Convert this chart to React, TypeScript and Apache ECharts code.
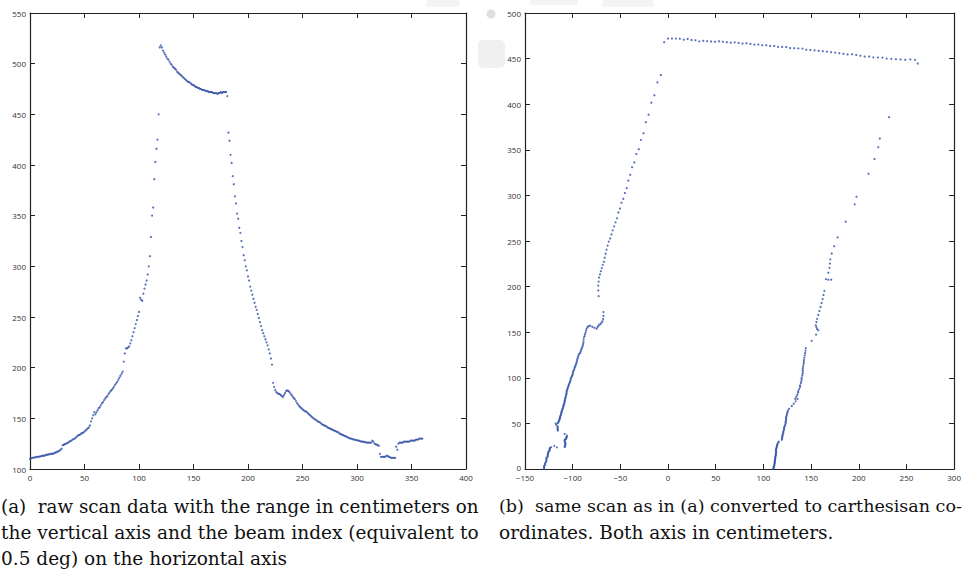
import React, { useEffect, useRef } from "react";
import * as echarts from "echarts";

// Range readings (cm) for each beam index 0..360
const ranges: number[] = [
  110, 110.5, 111, 111, 111.5, 111.5, 112, 112, 112, 112.5,
  112.5, 113, 113, 113, 113.5, 114, 114, 114.5, 114.5, 115,
  115, 115, 115.5, 116, 116.5, 117, 117.5, 118, 119, 120,
  123.5, 124, 124.5, 125, 125.5, 126, 127, 127.5, 128, 129,
  129.5, 130, 131, 132, 133, 133.5, 134, 135, 135.5, 136,
  137, 138, 139, 140, 141, 143, 147, 150, 153, 156,
  154, 156, 158, 160, 161, 163, 165, 166, 168, 169.5,
  171, 172, 174, 175.5, 177, 178, 179.5, 181, 183, 184.5,
  186, 188, 190, 192, 194, 196, 206, 214, 219, 219,
  220, 221, 224, 227, 231, 235, 239, 243, 247, 251,
  255, 269, 267, 266, 273, 278, 282, 286, 292, 300,
  310, 329, 350, 358, 386, 403, 416, 425, 450, 516,
  518, 516, 513, 511, 509, 507, 505, 504, 502, 500,
  499, 497, 496, 495, 494, 492, 491, 490, 489, 488,
  487, 486, 485, 484, 483, 482, 482, 481, 480, 479,
  479, 478, 477, 477, 476, 476, 475, 475, 474, 474,
  474, 473, 473, 473, 472, 472, 472, 472, 471, 471,
  471, 471, 470, 471, 471, 472, 471, 472, 472, 472,
  472, 468, 432, 424, 410, 402, 389, 381, 369, 362,
  352, 347, 338, 333, 325, 319, 311, 306, 300, 296,
  290, 286, 280, 276, 272, 268, 264, 260, 257, 253,
  249, 245, 241, 237, 234, 231, 228, 225, 222, 218,
  214, 209, 203, 185, 181, 178, 176, 175, 174, 174,
  173, 172, 171, 173, 175, 177, 177.5, 177, 176, 174.5,
  173, 171.5, 170, 169, 167, 165, 163.5, 162, 161, 160,
  159, 158, 157, 157, 156, 155, 154, 153, 152, 151,
  150, 149.5, 148.5, 148, 147, 146.5, 146, 145, 144, 143.5,
  143, 142.5, 142, 141, 140.5, 140, 139.5, 139, 138.5, 138,
  137.5, 137, 136.5, 136, 135, 134.5, 134, 133.5, 133, 132.5,
  132, 131.5, 131, 130.5, 130, 130, 129.5, 129, 129, 128.5,
  128.5, 128, 128, 127.5, 127, 127, 127, 126.5, 126.5, 126,
  126, 126, 126, 126, 128, 127, 125, 124.5, 124, 123.5,
  123, 115, 112, 112, 112, 112, 112, 113, 113, 112,
  112, 111, 111, 111, 111, 111, 122, 119, 125, 126,
  126, 126, 126, 127, 127, 127, 127, 127, 127, 128,
  128, 128, 128, 128, 129, 129, 129, 130, 130, 130,
  130,
];

// Beam angular resolution (deg) used for the cartesian conversion of panel (b)
const beamStepDeg = 0.5;

// Axis tick ranges
const leftXTicks = { min: 0, max: 400, interval: 50 };
const leftYTicks = { min: 100, max: 550, interval: 50 };
const rightXTicks = { min: -150, max: 300, interval: 50 };
const rightYTicks = { min: 0, max: 500, interval: 50 };

// Captions (justified lines carry a target width)
const captionA = [
  "(a)  raw scan data with the range in centimeters on",
  "the vertical axis and the beam index (equivalent to",
  "0.5 deg) on the horizontal axis",
];
const captionB = [
  "(b)  same scan as in (a) converted to carthesisan co-",
  "ordinates. Both axis in centimeters.",
];

const DOT_COLOR = "#2f4fa8";
const AXIS_COLOR = "#222";
const LABEL_FONT = "Open Sans";
const CAP_FONT = "DejaVu Serif";
const CAP_SIZE = 18.5;

function axis(
  kind: "x" | "y",
  grid: number,
  ticks: { min: number; max: number; interval: number },
  position: string,
  showLabels: boolean,
  liftMin = false
) {
  return {
    type: "value",
    gridIndex: grid,
    position,
    min: ticks.min,
    max: ticks.max,
    interval: ticks.interval,
    splitLine: { show: false },
    axisLine: { show: true, onZero: false, lineStyle: { color: AXIS_COLOR, width: 1.2 } },
    axisTick: { show: true, inside: true, length: 5, lineStyle: { color: AXIS_COLOR, width: 1 } },
    axisLabel: {
      show: showLabels,
      color: "#333",
      fontSize: 8,
      fontFamily: LABEL_FONT,
      margin: 4,
      formatter: (v: number) => {
        const s = String(v).replace("-", "\u2212");
        return liftMin && v === ticks.min ? `{lo|${s}}` : s;
      },
      rich: {
        lo: { fontSize: 8, fontFamily: LABEL_FONT, color: "#333", padding: [0, 0, 4, 0] },
      },
    },
  };
}

function fitSize(text: string, target: number | null): number {
  if (target == null) return CAP_SIZE;
  const c = document.createElement("canvas").getContext("2d");
  if (!c) return CAP_SIZE;
  c.font = `${CAP_SIZE}px "${CAP_FONT}"`;
  const w = c.measureText(text).width;
  if (!w) return CAP_SIZE;
  const s = (CAP_SIZE * target) / w;
  return Math.max(15, Math.min(19.5, s));
}

export default function App() {
  const ref = useRef<HTMLDivElement>(null);

  useEffect(() => {
    if (!ref.current) return;
    const chart = echarts.init(ref.current, null, { renderer: "svg" });

    const rawData = ranges.map((r, i) => [i, r]);
    const cartData = ranges.map((r, i) => {
      const a = (i * beamStepDeg * Math.PI) / 180;
      return [r * Math.cos(a), r * Math.sin(a)];
    });

    const capElems: any[] = [];
    const targetsA = [478, 478, null];
    const targetsB = [463, null];
    captionA.forEach((t, i) =>
      capElems.push({
        type: "text",
        x: 1,
        y: 506 + i * 26,
        style: {
          text: t,
          fontSize: fitSize(t, targetsA[i]),
          fontFamily: CAP_FONT,
          fill: "#111",
          verticalAlign: "middle",
          align: "left",
        },
      })
    );
    captionB.forEach((t, i) =>
      capElems.push({
        type: "text",
        x: 499,
        y: 506 + i * 26,
        style: {
          text: t,
          fontSize: fitSize(t, targetsB[i]),
          fontFamily: CAP_FONT,
          fill: "#111",
          verticalAlign: "middle",
          align: "left",
        },
      })
    );

    chart.setOption({
      animation: false,
      backgroundColor: "#fff",
      grid: [
        { left: 30, top: 13, width: 436, height: 456, containLabel: false },
        { left: 525, top: 13, width: 434, height: 456, containLabel: false },
      ],
      xAxis: [
        axis("x", 0, leftXTicks, "bottom", true),
        axis("x", 0, leftXTicks, "top", false),
        axis("x", 1, rightXTicks, "bottom", true),
        axis("x", 1, rightXTicks, "top", false),
      ],
      yAxis: [
        axis("y", 0, leftYTicks, "left", true),
        axis("y", 0, leftYTicks, "right", false),
        axis("y", 1, rightYTicks, "left", true, true),
        axis("y", 1, rightYTicks, "right", false),
      ],
      series: [
        {
          type: "scatter",
          xAxisIndex: 0,
          yAxisIndex: 0,
          data: rawData,
          symbol: "circle",
          symbolSize: 2.2,
          itemStyle: { color: DOT_COLOR },
          silent: true,
        },
        {
          type: "scatter",
          xAxisIndex: 2,
          yAxisIndex: 2,
          data: cartData,
          symbol: "circle",
          symbolSize: 2.2,
          itemStyle: { color: DOT_COLOR },
          silent: true,
        },
      ],
      graphic: [
        { type: "circle", shape: { cx: 491, cy: 14, r: 4.5 }, style: { fill: "#e0e0e0" }, z: -10 },
        { type: "rect", shape: { x: 478, y: 40, width: 27, height: 28, r: 5 }, style: { fill: "#f0f0f0" }, z: -10 },
        { type: "rect", shape: { x: 426, y: 0, width: 34, height: 7, r: 3 }, style: { fill: "#f4f4f4" }, z: -10 },
        { type: "rect", shape: { x: 530, y: 0, width: 48, height: 5, r: 2 }, style: { fill: "#f4f4f4" }, z: -10 },
        { type: "rect", shape: { x: 602, y: 0, width: 52, height: 7, r: 3 }, style: { fill: "#f4f4f4" }, z: -10 },
        ...capElems,
      ],
    });

    return () => chart.dispose();
  }, []);

  return (
    <div
      ref={ref}
      style={{ position: "fixed", left: 0, top: 0, width: 964, height: 573, background: "#fff" }}
    />
  );
}
